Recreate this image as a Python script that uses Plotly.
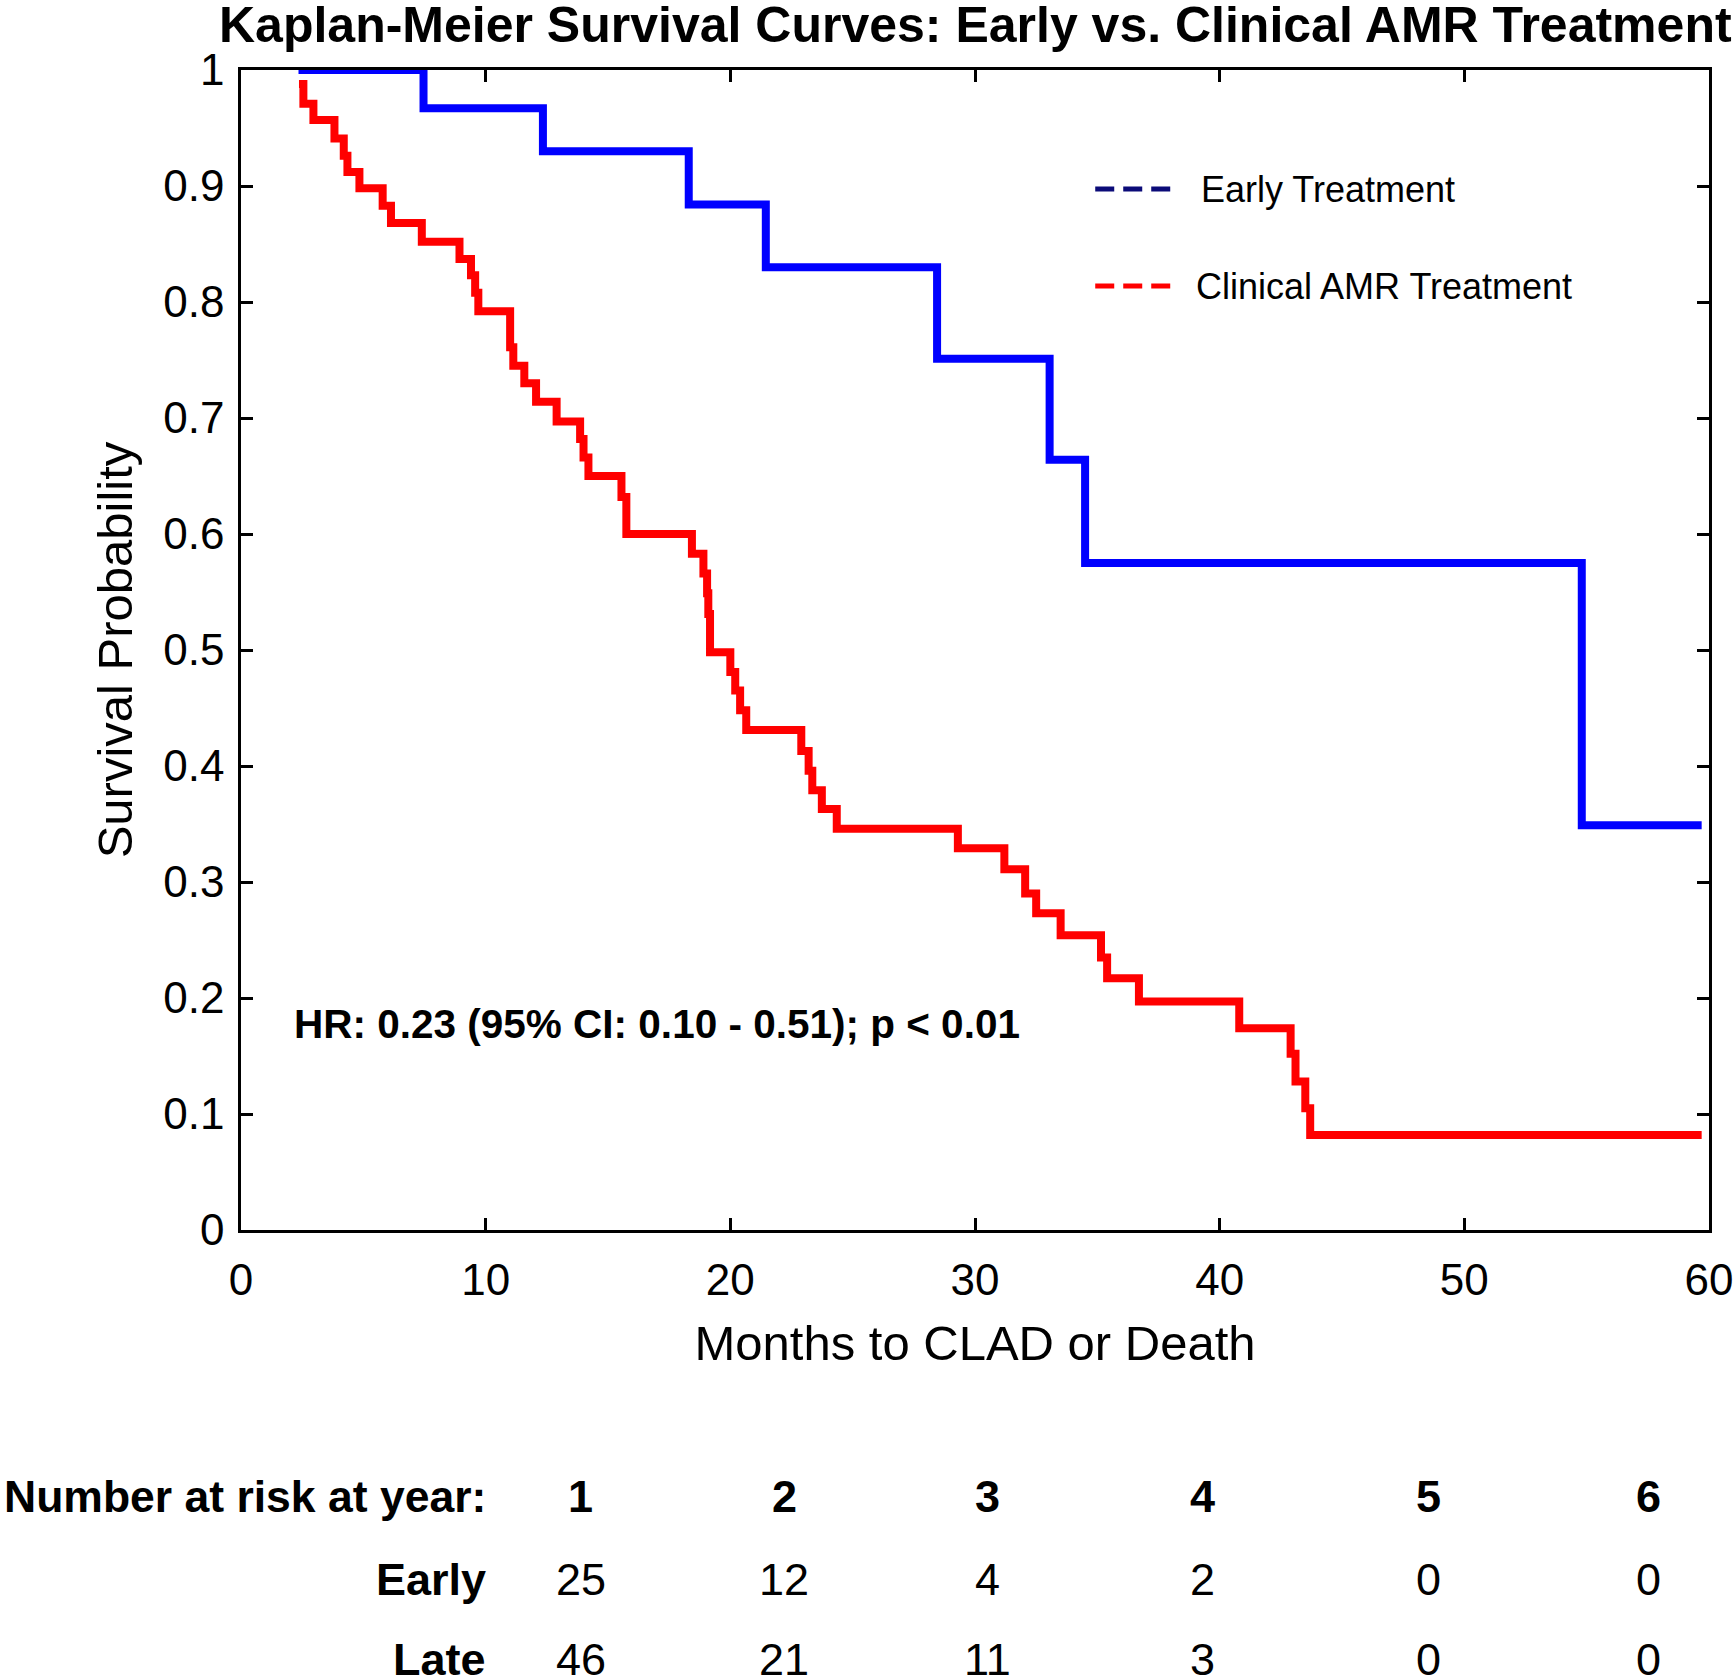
import plotly.graph_objects as go

# ---------------- data ----------------
early_months = [2.35, 7.46, 12.34, 18.3, 21.45, 28.45, 33.05, 34.5, 54.8, 59.7]
early_surv = [1.0, 0.967, 0.930, 0.884, 0.830, 0.751, 0.664, 0.575, 0.349, 0.349]

clin_months = [2.37, 2.55, 2.96, 3.82, 4.2, 4.35, 4.84, 5.79, 6.13, 7.39, 8.93, 9.40,
               9.57, 9.70, 11.0, 11.13, 11.58, 12.06, 12.9, 13.86, 14.0, 14.2,
               15.55, 15.75, 18.43, 18.9, 19.05, 19.1, 19.17, 20.0, 20.2, 20.4,
               20.65, 22.9, 23.2, 23.35, 23.74, 24.35, 29.3, 31.2, 32.05, 32.5,
               33.5, 35.15, 35.4, 36.7, 40.8, 42.9, 43.1, 43.5, 43.7, 59.7]
clin_surv = [0.988, 0.971, 0.957, 0.941, 0.926, 0.912, 0.898, 0.883, 0.868, 0.852,
             0.837, 0.823, 0.808, 0.792, 0.761, 0.745, 0.730, 0.714, 0.697, 0.682,
             0.666, 0.650, 0.632, 0.600, 0.583, 0.566, 0.549, 0.531, 0.498, 0.481,
             0.465, 0.448, 0.431, 0.413, 0.396, 0.379, 0.363, 0.346, 0.329, 0.311,
             0.290, 0.273, 0.254, 0.235, 0.217, 0.197, 0.174, 0.152, 0.128, 0.105,
             0.082, 0.082]

series_names = ["Early Treatment", "Clinical AMR Treatment"]
risk_years = ["1", "2", "3", "4", "5", "6"]
risk_rows = ["Early", "Late"]
risk_early = [25, 12, 4, 2, 0, 0]
risk_late = [46, 21, 11, 3, 0, 0]

title_text = "Kaplan-Meier Survival Curves: Early vs. Clinical AMR Treatment"
hr_text = "HR: 0.23 (95% CI: 0.10 - 0.51); p < 0.01"

# ---------------- layout constants (page pixels) ----------------
W, H = 1734, 1675
PLOT_L, PLOT_R, PLOT_T, PLOT_B = 241, 1708.6, 70, 1230
ML = PLOT_L
MT = PLOT_T
PW = PLOT_R - PLOT_L
PH = PLOT_B - PLOT_T
MR = W - ML - PW
MB = H - MT - PH
FONT = "Liberation Sans, Arial, sans-serif"


def xp(px):
    return (px - PLOT_L) / PW


def yp(py):
    return (PLOT_B - py) / PH


fig = go.Figure()
fig.add_trace(go.Scatter(x=early_months, y=early_surv, mode="lines",
                         line=dict(color="#0000ff", width=8, shape="hv"),
                         name=series_names[0], showlegend=False, cliponaxis=False))
fig.add_trace(go.Scatter(x=clin_months, y=clin_surv, mode="lines",
                         line=dict(color="#ff0000", width=8, shape="hv"),
                         name=series_names[1], showlegend=False, cliponaxis=False))

axis_common = dict(showline=True, linecolor="black", linewidth=2.5, mirror="ticks",
                   ticks="inside", ticklen=12, tickwidth=2.5, tickcolor="black",
                   showgrid=False, zeroline=False, automargin=False,
                   tickfont=dict(family=FONT, size=44, color="black"))

fig.update_xaxes(range=[0, 60], dtick=10, tick0=0, ticklabelstandoff=9,
                 title=dict(text="Months to CLAD or Death", standoff=24,
                            font=dict(family=FONT, size=49, color="black")),
                 **axis_common)
fig.update_yaxes(range=[0, 1], dtick=0.1, tick0=0, ticklabelstandoff=5,
                 title=dict(text="Survival Probability", standoff=16,
                            font=dict(family=FONT, size=49, color="black")),
                 **axis_common)

annotations = []
shapes = []

# title
annotations.append(dict(text="<b>" + title_text + "</b>", xref="paper", yref="paper",
                        x=0.5, y=yp(25), xanchor="center", yanchor="middle",
                        showarrow=False, font=dict(family=FONT, size=50, color="black")))
# HR text
annotations.append(dict(text="<b>" + hr_text + "</b>", xref="x", yref="y",
                        x=2.1, y=0.178, xanchor="left", yanchor="middle",
                        showarrow=False, font=dict(family=FONT, size=40.5, color="black")))

# legend (manual)
leg_colors = ["#0b0b78", "#ff0000"]
leg_y = [189, 286]
leg_text_x = [1199, 1194]
for name, col, ly, tx in zip(series_names, leg_colors, leg_y, leg_text_x):
    shapes.append(dict(type="line", xref="paper", yref="paper",
                       x0=xp(1095), x1=xp(1170), y0=yp(ly), y1=yp(ly),
                       line=dict(color=col, width=5, dash="19px,9px")))
    annotations.append(dict(text=name, xref="paper", yref="paper", x=xp(tx), y=yp(ly),
                            xanchor="left", yanchor="middle", showarrow=False,
                            font=dict(family=FONT, size=36, color="black")))

# number at risk table
col_x = [580.6, 784, 987.6, 1202, 1427.7, 1647.8]
row_y = [1496, 1579, 1659]
label_right = 488
annotations.append(dict(text="<b>Number at risk at year:</b>", xref="paper", yref="paper",
                        x=xp(label_right), y=yp(row_y[0]), xanchor="right", yanchor="middle",
                        showarrow=False, font=dict(family=FONT, size=44.5, color="black")))
for yr, cx in zip(risk_years, col_x):
    annotations.append(dict(text="<b>" + yr + "</b>", xref="paper", yref="paper",
                            x=xp(cx), y=yp(row_y[0]), xanchor="center", yanchor="middle",
                            showarrow=False, font=dict(family=FONT, size=45, color="black")))
for rname, vals, ry in zip(risk_rows, [risk_early, risk_late], row_y[1:]):
    annotations.append(dict(text="<b>" + rname + "</b>", xref="paper", yref="paper",
                            x=xp(label_right), y=yp(ry), xanchor="right", yanchor="middle",
                            showarrow=False, font=dict(family=FONT, size=45, color="black")))
    for v, cx in zip(vals, col_x):
        annotations.append(dict(text=str(v), xref="paper", yref="paper",
                                x=xp(cx), y=yp(ry), xanchor="center", yanchor="middle",
                                showarrow=False, font=dict(family=FONT, size=45, color="black")))

fig.update_layout(width=W, height=H, margin=dict(l=ML, r=MR, t=MT, b=MB, pad=0),
                  paper_bgcolor="white", plot_bgcolor="white",
                  font=dict(family=FONT, color="black"),
                  annotations=annotations, shapes=shapes, showlegend=False)

# remove the browser's default 8px body margin so the figure fills the window
fig.write_html("out.html", config={"displayModeBar": False},
               post_script="document.body.style.margin='0';document.body.style.overflow='hidden';")
